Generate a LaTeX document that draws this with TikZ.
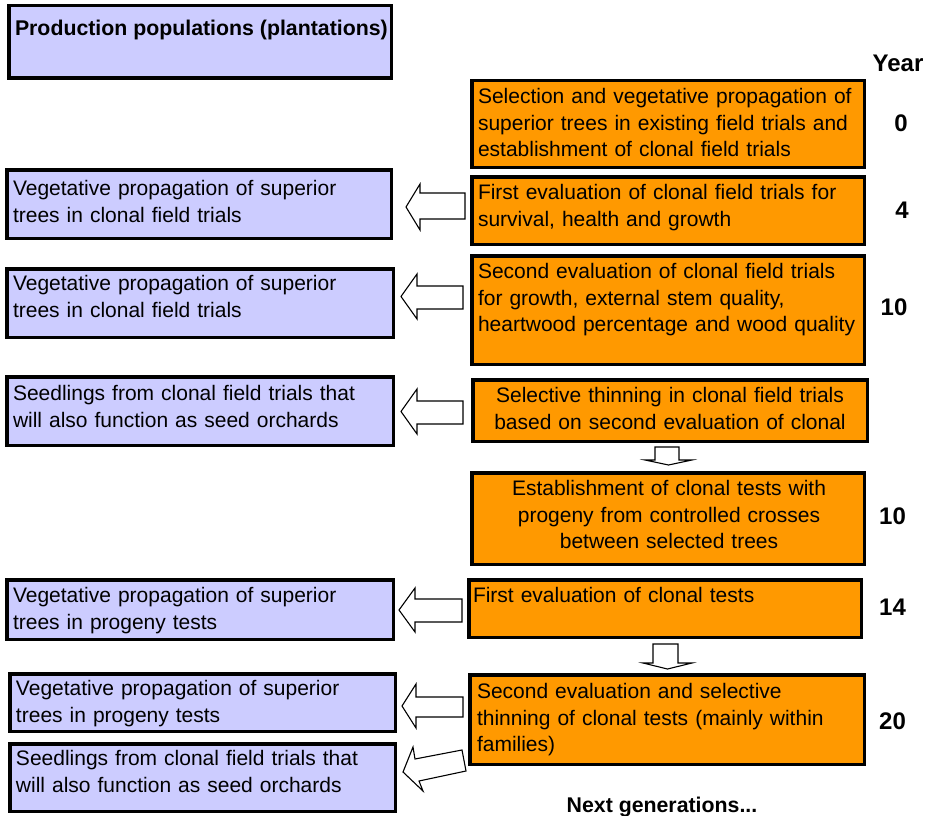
\documentclass[tikz,border=0pt]{standalone}
\usepackage{fontspec}
\setmainfont{Liberation Sans}
\definecolor{lav}{HTML}{CCCCFF}
\definecolor{org}{HTML}{FF9900}
\tikzset{
  boxbase/.style={draw=black, line width=3.5pt, inner sep=0pt, outer sep=0pt, rectangle},
  lbox/.style={boxbase, fill=lav},
  obox/.style={boxbase, fill=org},
  txt/.style={inner sep=0pt, outer sep=0pt, text width=385pt, align=left, font=\fontsize{21.0}{26.5}\selectfont},
  ctxt/.style={txt, align=center},
  btxt/.style={inner sep=0pt, outer sep=0pt, font=\fontsize{21.3}{26.5}\selectfont\bfseries},
  ytxt/.style={inner sep=0pt, outer sep=0pt, font=\fontsize{24}{28}\selectfont\bfseries},
  barrow/.style={draw=black, line width=1.1pt, fill=white, line join=miter},
}
\newcommand\mkbox[6]{\node[#2, minimum width={#5-#3-3.5}, minimum height={#6-#4-3.5}] (#1) at ({(#3+#5)/2},{(#4+#6)/2}) {};}
% tip, base, headtop, headbot, shafttop, shaftbot, right
\newcommand\larrow[7]{\draw[barrow] (#1,{(#3+#4)/2}) -- (#2,#3) -- (#2,#5) -- (#7,#5) -- (#7,#6) -- (#2,#6) -- (#2,#4) -- cycle;}
% shaftL, shaftR, top, headY, headL, headR, tip
\newcommand\darrow[7]{\draw[barrow] (#1,#3) -- (#2,#3) -- (#2,#4) -- (#6,#4) -- ({(#5+#6)/2},#7) -- (#5,#4) -- (#1,#4) -- cycle;}
\begin{document}
\begin{tikzpicture}[x=1pt,y=-1pt]
\useasboundingbox (0,0) rectangle (929,816);
% left (lavender) boxes
\mkbox{l0}{lbox}{7}{4}{393}{80}
\mkbox{l1}{lbox}{5}{168}{393}{240}
\mkbox{l2}{lbox}{5}{267}{395}{339}
\mkbox{l3}{lbox}{5}{375}{395}{447}
\mkbox{l4}{lbox}{5}{578}{395}{641}
\mkbox{l5}{lbox}{8}{672}{397}{733}
\mkbox{l6}{lbox}{8}{742}{397}{813}
% right (orange) boxes
\mkbox{o1}{obox}{470}{79}{866}{169}
\mkbox{o2}{obox}{470}{175}{866}{246}
\mkbox{o3}{obox}{470}{254}{866}{366}
\mkbox{o4}{obox}{471}{378}{869}{443}
\mkbox{o5}{obox}{470}{471}{866}{566}
\mkbox{o6}{obox}{467}{578}{863}{639}
\mkbox{o7}{obox}{468}{673}{866}{766}
% texts of left boxes
\node[btxt, anchor=base west] (tl0) at (15,35.5) {Production populations (plantations)};
\node[txt, anchor=base west] (tl1) at (13,195.5) {Vegetative propagation of superior\\trees in clonal field trials};
\node[txt, anchor=base west] (tl2) at (13,290.5) {Vegetative propagation of superior\\trees in clonal field trials};
\node[txt, anchor=base west] (tl3) at (13,400.5) {Seedlings from clonal field trials that\\will also function as seed orchards};
\node[txt, anchor=base west] (tl4) at (13,602.5) {Vegetative propagation of superior\\trees in progeny tests};
\node[txt, anchor=base west] (tl5) at (16,695.5) {Vegetative propagation of superior\\trees in progeny tests};
\node[txt, anchor=base west] (tl6) at (16,765.5) {Seedlings from clonal field trials that\\will also function as seed orchards};
% texts of right boxes
\node[txt, anchor=base west] (to1) at (478,103.5) {Selection and vegetative propagation of\\superior trees in existing field trials and\\establishment of clonal field trials};
\node[txt, anchor=base west] (to2) at (478,199.5) {First evaluation of clonal field trials for\\survival, health and growth};
\node[txt, anchor=base west] (to3) at (478,278.5) {Second evaluation of clonal field trials\\for growth, external stem quality,\\heartwood percentage and wood quality};
\node[ctxt, anchor=base] (to4) at (670,402.5) {Selective thinning in clonal field trials\\based on second evaluation of clonal};
\node[ctxt, anchor=base] (to5) at (669,495.5) {Establishment of clonal tests with\\progeny from controlled crosses\\between selected trees};
\node[txt, anchor=base west] (to6) at (473,602.5) {First evaluation of clonal tests};
\node[txt, anchor=base west] (to7) at (477,698.5) {Second evaluation and selective\\thinning of clonal tests (mainly within\\families)};
% years
\node[ytxt, anchor=base] (yr) at (898,71) {Year};
\node[ytxt, anchor=base] (y0) at (901,131) {0};
\node[ytxt, anchor=base] (y4) at (902,218) {4};
\node[ytxt, anchor=base] (y10a) at (894,315) {10};
\node[ytxt, anchor=base] (y10b) at (892.5,524) {10};
\node[ytxt, anchor=base] (y14) at (892.5,615) {14};
\node[ytxt, anchor=base] (y20) at (892.5,729) {20};
\node[btxt, anchor=base] (next) at (662,812) {Next generations...};
% block arrows
\larrow{406}{420}{184}{230}{193}{219}{465}
\larrow{401}{417}{274}{319}{286}{309}{463}
\larrow{401}{417}{389}{434}{401}{424}{463}
\larrow{399}{415}{588}{632}{599}{622}{462}
\larrow{402}{416}{684}{728}{697}{717}{463}
\draw[barrow] (403,772) -- (413,747) -- (415,759) -- (462,750) -- (466,771) -- (419,781) -- (423,791) -- cycle;
\darrow{655}{679}{447}{460}{645}{692}{465}
\darrow{653}{678}{644}{663}{643}{692}{669}
\end{tikzpicture}
\end{document}
